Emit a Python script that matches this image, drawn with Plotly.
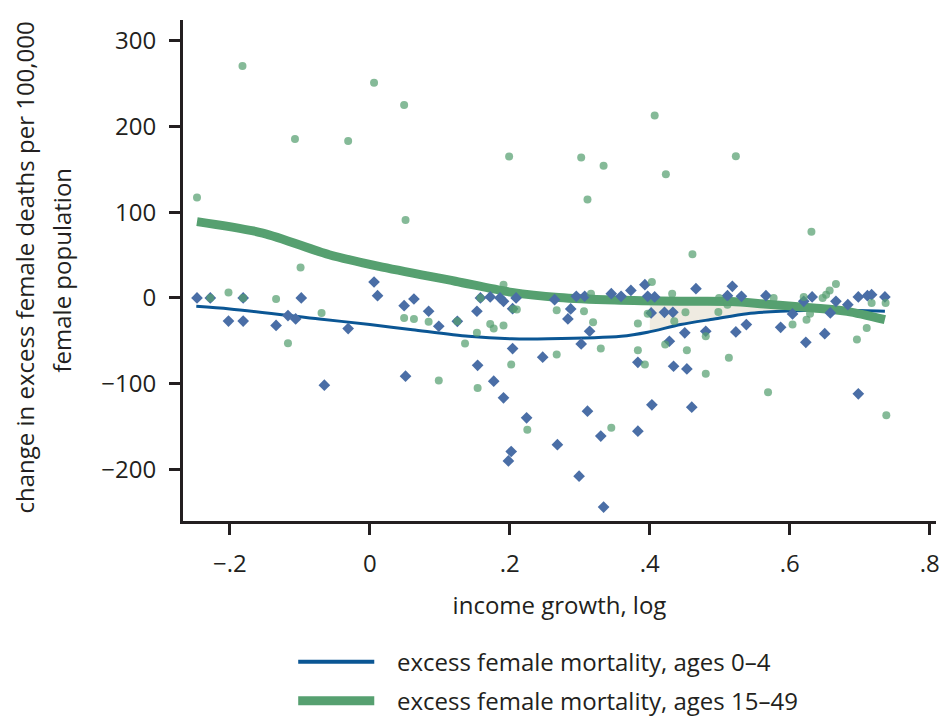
import plotly.graph_objects as go

# ---------------- data ----------------
# blue diamonds: excess female mortality, ages 0-4
young_x = [-0.247, -0.228, -0.202, -0.181, -0.181, -0.134, -0.117, -0.106, -0.098, -0.065,
           -0.031, 0.006, 0.011, 0.049, 0.063, 0.051, 0.084, 0.0985, 0.125, 0.153,
           0.158, 0.172, 0.186, 0.191, 0.209, 0.204, 0.204, 0.154, 0.177, 0.191,
           0.247, 0.224, 0.202, 0.198, 0.268, 0.264, 0.299, 0.334, 0.311, 0.330,
           0.383, 0.403, 0.460, 0.302, 0.283, 0.287, 0.314, 0.295, 0.307, 0.345,
           0.359, 0.373, 0.393, 0.397, 0.407, 0.402, 0.421, 0.433, 0.428, 0.383,
           0.434, 0.453, 0.450, 0.466, 0.480, 0.511, 0.518, 0.523, 0.531, 0.538,
           0.566, 0.587, 0.604, 0.623, 0.632, 0.620, 0.650, 0.658, 0.666, 0.683,
           0.698, 0.698, 0.711, 0.717, 0.736]
young_y = [0, 0, -27, 0, -27, -32, -20.6, -24.5, 0, -101.7,
           -35.7, 18.6, 2.7, -9, -1.2, -91.2, -15.5, -33, -27.2, -15.5,
           0, 1.2, 0, -3.9, 0, -12.5, -59, -78.5, -97, -116.4,
           -69, -139.7, -179, -190, -171, -2, -207.7, -243.8, -132, -161,
           -155.3, -124.6, -127.3, -53.6, -24.5, -12.8, -38.8, 1.9, 2, 5,
           1.9, 8.8, 15.5, 1.9, 1.2, -17.5, -16.8, -16.8, -50.5, -75,
           -79.6, -82.7, -40.7, 10.8, -38.8, 2.7, 13.5, -39.6, 1.9, -31,
           2.7, -34.2, -18.6, -51.7, 1.2, -3.9, -41.6, -17.5, -3.9, -7.8,
           -111.8, 1.2, 2.7, 3.8, 1.2]

# green circles: excess female mortality, ages 15-49
adult_x = [-0.182, 0.006, 0.049, -0.107, -0.031, 0.199, -0.247, 0.051, -0.099, 0.407,
           0.302, 0.334, 0.423, 0.523, 0.311, 0.631, 0.461, 0.403, -0.202, -0.134,
           -0.069, -0.117, 0.049, 0.063, 0.084, 0.136, 0.0985, 0.153, 0.172, 0.177,
           0.191, 0.191, 0.154, 0.202, 0.225, 0.267, 0.205, 0.210, 0.267, 0.345,
           0.306, 0.319, 0.330, 0.316, 0.383, 0.383, 0.393, 0.397, 0.422, 0.432,
           0.435, 0.451, 0.453, 0.480, 0.480, 0.498, 0.499, 0.513, 0.511, 0.569,
           0.577, 0.604, 0.620, 0.624, 0.629, 0.647, 0.652, 0.657, 0.666, 0.696,
           0.710, 0.717, 0.737, 0.738, -0.228, -0.181, 0.125, 0.158]
adult_y = [270.4, 251, 225, 185.4, 183, 165, 117, 90.8, 35.6, 212.6,
           163.7, 154, 144.3, 165.3, 114.8, 77.2, 50.8, 18.6, 6.5, -1.2,
           -17.5, -52.8, -23.3, -24.4, -27.6, -53.2, -96.3, -40.7, -30.3, -35.7,
           -32.2, 15.5, -105, -77.6, -153.7, -66, -12.8, -13.6, -14.4, -151.3,
           -15.6, -28.4, -59, 5, -29.9, -61, -77.6, -18.3, -54.4, 5,
           -27.2, -16.8, -61, -44.7, -88.5, -16.3, 0, -69.8, -7.8, -109.9,
           0, -31, 1.2, -25.3, -18.3, 0, 3.8, 8.8, 16.3, -48.5,
           -35, -5.8, -5.8, -136.7, 0, 0, -27.2, 0]

# fitted curves
young_fit_x = [-0.248, -0.2, -0.072, 0.0, 0.061, 0.141, 0.203, 0.255, 0.359, 0.397,
               0.444, 0.492, 0.539, 0.587, 0.634, 0.682, 0.736]
young_fit_y = [-9.8, -12.8, -24.5, -31, -37, -44.7, -47.7, -47.7, -44.7, -40,
               -31, -24.5, -18.3, -15.5, -14.4, -14.4, -15.5]
adult_fit_x = [-0.247, -0.153, -0.058, 0.013, 0.122, 0.203, 0.270, 0.350, 0.444, 0.516,
               0.563, 0.634, 0.682, 0.736]
adult_fit_y = [89, 75.7, 50.4, 36.8, 19.5, 6.5, 0.5, -2.5, -3.9, -4.2,
               -7, -11.6, -15.6, -25.3]

# shaded gap between the two curves
gap_x = [0.40, 0.444, 0.492, 0.539, 0.587, 0.60]
gap_top = [-3.5, -3.9, -3.9, -4.5, -8, -9]
gap_bottom = [-40, -31, -24.5, -18.3, -15.5, -15]

x_ticks = [-0.2, 0, 0.2, 0.4, 0.6, 0.8]
x_labels = ["\u2212.2", "0", ".2", ".4", ".6", ".8"]
y_ticks = [300, 200, 100, 0, -100, -200]
y_labels = ["300", "200", "100", "0", "\u2212100", "\u2212200"]

legend_labels = ["excess female mortality, ages 0\u20134",
                 "excess female mortality, ages 15\u201349"]

# ---------------- styling ----------------
INK = "#231f20"
BLUE_LINE = "#0b5694"
GREEN_LINE = "#56a070"
BLUE_PT = "#4a6ea6"
FONT = "Open Sans"

fig = go.Figure()

fig.add_trace(go.Scatter(x=gap_x, y=gap_bottom, mode="lines", line=dict(width=0),
                         showlegend=False, hoverinfo="skip"))
fig.add_trace(go.Scatter(x=gap_x, y=gap_top, mode="lines", line=dict(width=0),
                         fill="tonexty", fillcolor="#efebe1",
                         showlegend=False, hoverinfo="skip"))

fig.add_trace(go.Scatter(x=young_fit_x, y=young_fit_y, mode="lines",
                         line=dict(color=BLUE_LINE, width=3, shape="spline", smoothing=0.8),
                         name=legend_labels[0], showlegend=False))
fig.add_trace(go.Scatter(x=adult_fit_x, y=adult_fit_y, mode="lines",
                         line=dict(color=GREEN_LINE, width=9, shape="spline", smoothing=0.8),
                         name=legend_labels[1], showlegend=False))

fig.add_trace(go.Scatter(x=young_x, y=young_y, mode="markers",
                         marker=dict(symbol="diamond", size=9, color=BLUE_PT,
                                     line=dict(width=0)),
                         showlegend=False))
fig.add_trace(go.Scatter(x=adult_x, y=adult_y, mode="markers",
                         marker=dict(symbol="circle", size=8, color=GREEN_LINE,
                                     opacity=0.72, line=dict(width=0)),
                         showlegend=False))

axis_common = dict(showline=True, linewidth=3, linecolor=INK, ticks="outside",
                   ticklen=11, tickwidth=3, tickcolor=INK, showgrid=False,
                   zeroline=False, tickfont=dict(family=FONT, size=24, color=INK))

fig.update_xaxes(range=[-0.267, 0.809], tickmode="array", tickvals=x_ticks,
                 ticktext=x_labels, ticklabelstandoff=8,
                 title=dict(text="income growth, log", standoff=20,
                            font=dict(family=FONT, size=24, color=INK)),
                 **axis_common)
fig.update_yaxes(range=[-260, 324], tickmode="array", tickvals=y_ticks,
                 ticktext=y_labels, ticklabelstandoff=8, **axis_common)

# y-axis title (two lines)
fig.add_annotation(text="change in excess female deaths per 100,000", textangle=-90,
                   xref="paper", yref="paper", x=0, y=0.506, xanchor="center",
                   yanchor="middle", xshift=-159, showarrow=False,
                   font=dict(family=FONT, size=24, color=INK))
fig.add_annotation(text="female population", textangle=-90,
                   xref="paper", yref="paper", x=0, y=0.5, xanchor="center",
                   yanchor="middle", xshift=-122, showarrow=False,
                   font=dict(family=FONT, size=24, color=INK))

# custom legend (long line samples)
legend_rows = [(-0.281, BLUE_LINE, 4), (-0.359, GREEN_LINE, 9)]
for (ly, col, w), lab in zip(legend_rows, legend_labels):
    fig.add_shape(type="line", xref="paper", yref="paper", x0=0.153, x1=0.254,
                  y0=ly, y1=ly, line=dict(color=col, width=w))
    fig.add_annotation(text=lab, xref="paper", yref="paper", x=0.282, y=ly,
                       xanchor="left", yanchor="middle", showarrow=False,
                       font=dict(family=FONT, size=24, color=INK))

fig.update_layout(width=945, height=719, paper_bgcolor="white", plot_bgcolor="white",
                  margin=dict(l=183, r=5, t=20, b=197.5), showlegend=False)

# remove the browser's default 8px page margin so the figure fills the window
fig.write_html("out.html", config={"displayModeBar": False},
               post_script="document.body.style.margin='0';"
                           "document.body.style.overflow='hidden';")
